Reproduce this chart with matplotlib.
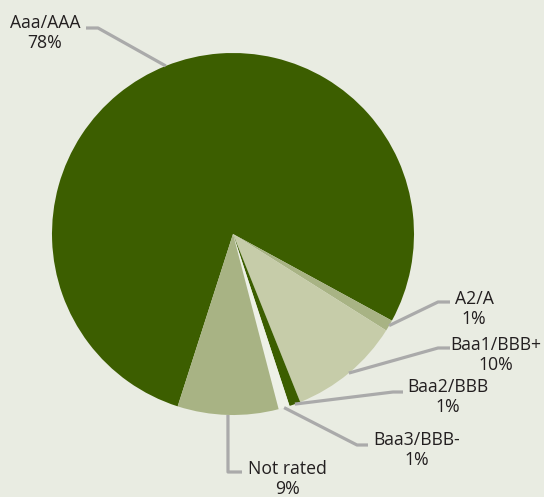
import matplotlib.pyplot as plt
import numpy as np

plt.rcParams['font.family'] = ['Open Sans', 'DejaVu Sans']

# ratings breakdown (share, %)
labels = ['Aaa/AAA', 'A2/A', 'Baa1/BBB+', 'Baa2/BBB', 'Baa3/BBB-', 'Not rated']
shares = [78, 1, 10, 1, 1, 9]
colors = ['#3c5e00', '#a8b384', '#c6cca9', '#3c5e00', '#eef1e7', '#a8b384']

bg = '#e9ece2'
W, H = 544, 497

fig = plt.figure(figsize=(W / 100, H / 100), dpi=100, facecolor=bg)
ax = fig.add_axes([0, 0, 1, 1])
ax.set_facecolor(bg)

# work in pixel units, y pointing up
cx, cy, r = 233, H - 234, 181
wedges, _ = ax.pie(shares, colors=colors, startangle=252.2, counterclock=False,
                   center=(cx, cy), radius=r, wedgeprops=dict(linewidth=0))
ax.set_xlim(0, W)
ax.set_ylim(0, H)
ax.set_aspect('equal')
ax.axis('off')

# leader elbows / ends and label centres (pixel coords, y from top)
elbows = [(98, 28), (438, 302), (438, 348), (393, 392), (357, 445), (228, 472)]
ends = [(86, 28), (450, 302), (450, 348), (403, 392), (368, 445), (242, 472)]
text_pos = [(45, 33), (474, 309), (496, 355), (448, 397), (417, 450), (287, 479)]

for w, lab, s, el, en, tp in zip(wedges, labels, shares, elbows, ends, text_pos):
    ang = np.deg2rad((w.theta1 + w.theta2) / 2)
    ax_, ay_ = cx + r * np.cos(ang), cy + r * np.sin(ang)
    ax.plot([ax_, el[0], en[0]], [ay_, H - el[1], H - en[1]],
            color='#aaaaaa', lw=2.3, solid_capstyle='butt', zorder=3)
    ax.text(tp[0], H - tp[1], f'{lab}\n{s}%', ha='center', va='center',
            fontsize=12.7, color='#231f20', linespacing=1.15)

fig.savefig('out.png', dpi=100, facecolor=bg)
